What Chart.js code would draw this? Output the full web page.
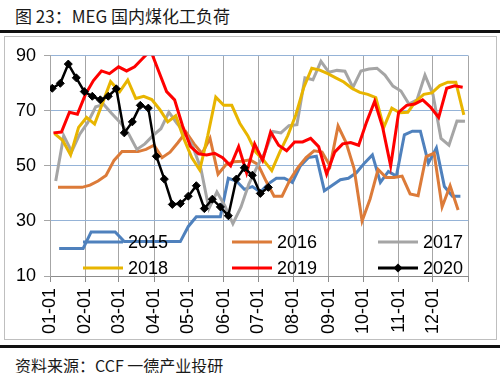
<!DOCTYPE html>
<html>
<head>
<meta charset="utf-8">
<script src="https://cdn.jsdelivr.net/npm/chart.js@4.4.0/dist/chart.umd.min.js"></script>
<style>
  body { margin: 0; background: #fff; width: 500px; height: 373px; position: relative; overflow: hidden; }
  .title { position: absolute; left: 15px; top: 3px; font: 17px "Noto Sans CJK SC", sans-serif; color: #1a1a1a; white-space: nowrap; }
  .rule { position: absolute; left: 0; width: 500px; height: 3px; background: #111; }
  .box { position: absolute; left: 4px; top: 36px; width: 493px; height: 304px; border: 1px solid #bfbfbf; box-sizing: border-box; }
  #chart { position: absolute; left: 5px; top: 37px; }
  .source { position: absolute; left: 15px; top: 353px; font: 16px "Noto Sans CJK SC", sans-serif; color: #1a1a1a; white-space: nowrap; }
</style>
</head>
<body>
<div class="title">图 23：MEG 国内煤化工负荷</div>
<div class="rule" style="top:30px"></div>
<div class="box"></div>
<canvas id="chart" width="491" height="302"></canvas>
<div class="rule" style="top:345px"></div>
<div class="source">资料来源：CCF 一德产业投研</div>
<script>
// month tick labels (x axis)
const monthLabels = ['01-01', '02-01', '03-01', '04-01', '05-01', '06-01',
                     '07-01', '08-01', '09-01', '10-01', '11-01', '12-01'];
const yTicks = [10, 30, 50, 70, 90];

const years = ['2015', '2016', '2017', '2018', '2019', '2020'];
// first weekly date of each year's series
const firstDates = ['2015-01-09', '2016-01-08', '2017-01-06', '2018-01-05', '2019-01-04', '2020-01-03'];

// weekly load (%)
const s2015 = [20, 20, 20, 20, 26, 26, 26, 26, 22.5, 22.5, 22.5, 22.5, 22.5, 22.5, 22.5, 22.5,
  28, 31.5, 31.5, 31.5, 31.5, 45.5, 44.5, 41.5, 42.5, 40.5, 43.5, 45.5, 45.5, 44, 50, 53, 53.5,
  41, 43, 45, 45.5, 47.5, 51, 54, 44, 48, 46.3, 61.3, 62.6, 62.6, 51, 56.5, 42.5, 39, 39];
const s2016 = [42.2, 42.2, 42.2, 42.2, 43, 44.5, 46.5, 52, 55.2, 55.2, 55.2, 56, 57.5, 53, 55,
  58.5, 62.3, 58, 54.5, 60, 47, 50.5, 51.5, 51.7, 52.2, 50.5, 44.5, 39, 39, 45, 49.5, 53, 55.5,
  55, 50, 64.5, 58.5, 49, 30, 38, 48.7, 45.8, 45.8, 46.3, 39.8, 39.2, 53.4, 54.6, 35.1, 42.8, 34];
const s2017 = [44.5, 61, 55.2, 61.5, 65.7, 71.5, 72.3, 69, 65.5, 61.5, 56, 58, 61, 63.5, 69.5,
  65.5, 62, 57, 49, 34.5, 40.5, 35.5, 29, 35, 43.5, 49.5, 55, 62.5, 62, 64.6, 65, 82, 81.3, 88,
  84, 84.7, 84.4, 78.5, 84.5, 85.2, 85.5, 83, 79, 77.2, 72.5, 74, 83, 76, 60, 57.5, 66.3, 66.2];
const s2018 = [61.7, 59.3, 54, 64, 67.6, 65.2, 72.9, 80.6, 77, 81.2, 74.5, 75.3, 74.1, 70.5, 66,
  68.2, 60, 53, 48.5, 61, 75, 72, 72, 65.5, 61, 55, 52, 48.3, 55, 61, 68.5, 78.5, 85.5, 84.8,
  83.5, 82, 80.5, 78.2, 76.7, 76, 74.8, 64, 71, 69.3, 69.5, 73.5, 76, 76.5, 79.2, 80.4, 80.4, 68.5];
const s2019 = [62, 62.3, 69.5, 68.8, 76, 81, 84.5, 83.5, 86, 84.5, 86, 89, 92, 84.5, 77, 74, 64.5,
  57, 54.4, 54, 54.6, 53, 50, 57, 47.5, 58, 52, 62.3, 57.5, 55.5, 58.7, 58.7, 60, 57, 47, 55, 58,
  58.5, 57.5, 66, 73.5, 64, 50, 69.5, 72, 72.5, 74, 71.3, 67.6, 78.2, 79.1, 78.6];
const s2020 = [78.2, 80, 87, 82, 77, 75.3, 74, 75.3, 78, 62, 66, 72, 71, 53.5, 45.2, 36, 36.3,
  39, 42.8, 34.5, 37.9, 35.1, 31.9, 45.2, 49.3, 46.6, 40, 42.2];

const seriesValues = [s2015, s2016, s2017, s2018, s2019, s2020];
const colors = ['#4f81bd', '#dc7b39', '#a5a5a5', '#e8b500', '#ff0000', '#000000'];

// position on a shared MM-DD axis (leap calendar, day 0 = 01-01)
const DAY = 86400000;
function dayPos(d) {
  return (Date.UTC(2020, d.getUTCMonth(), d.getUTCDate()) - Date.UTC(2020, 0, 1)) / DAY;
}
const monthTicks = monthLabels.map(m => dayPos(new Date('2020-' + m + 'T00:00:00Z')));
monthTicks.push(366);

const datasets = years.map((y, k) => {
  const start = Date.parse(firstDates[k] + 'T00:00:00Z');
  const is2020 = y === '2020';
  return {
    label: y,
    data: seriesValues[k].map((v, i) => ({ x: dayPos(new Date(start + i * 7 * DAY)), y: v })),
    borderColor: colors[k],
    backgroundColor: colors[k],
    borderWidth: is2020 ? 2.5 : 3,
    pointRadius: is2020 ? 4 : 0,
    pointStyle: 'rectRot',
    pointBorderWidth: 1,
    tension: 0,
    order: years.length - k
  };
});

// legend drawn inside the plot, 3 columns x 2 rows
const insideLegend = {
  id: 'insideLegend',
  afterDatasetsDraw(chart) {
    const ctx = chart.ctx;
    const area = chart.chartArea;
    const colX = [33, 182, 328];
    const rowY = [area.bottom - 34, area.bottom - 8];
    ctx.save();
    ctx.font = '18px "Liberation Sans", Arial, sans-serif';
    ctx.textBaseline = 'middle';
    ctx.fillStyle = '#000';
    chart.data.datasets.forEach((ds, i) => {
      const x = area.left + colX[i % 3];
      const y = rowY[Math.floor(i / 3)];
      ctx.strokeStyle = ds.borderColor;
      ctx.lineWidth = 3;
      ctx.beginPath();
      ctx.moveTo(x, y);
      ctx.lineTo(x + 40, y);
      ctx.stroke();
      if (ds.pointRadius > 0) {
        const r = ds.pointRadius + 0.5;
        ctx.fillStyle = ds.backgroundColor;
        ctx.beginPath();
        ctx.moveTo(x + 20, y - r);
        ctx.lineTo(x + 20 + r, y);
        ctx.lineTo(x + 20, y + r);
        ctx.lineTo(x + 20 - r, y);
        ctx.closePath();
        ctx.fill();
        ctx.fillStyle = '#000';
      }
      ctx.fillText(ds.label, x + 45, y + 1);
    });
    ctx.restore();
  }
};

new Chart(document.getElementById('chart'), {
  type: 'line',
  data: { datasets },
  options: {
    responsive: false,
    animation: false,
    devicePixelRatio: 1,
    layout: { padding: { top: 13, right: 10, left: 0, bottom: 0 } },
    plugins: { legend: { display: false }, tooltip: { enabled: false } },
    scales: {
      x: {
        type: 'linear',
        min: 0,
        max: 366,
        afterBuildTicks: s => { s.ticks = monthTicks.map(v => ({ value: v })); },
        afterFit: s => { s.height = 63; },
        ticks: {
          autoSkip: false,
          minRotation: 90,
          maxRotation: 90,
          padding: 6,
          color: '#000',
          font: { family: '"Liberation Sans", Arial, sans-serif', size: 18 },
          callback: (v, i) => monthLabels[i] || ''
        },
        grid: { color: '#a6a6a6', tickLength: 6, tickColor: '#8c8c8c' },
        border: { color: '#8c8c8c' }
      },
      y: {
        min: 10,
        max: 90,
        afterBuildTicks: s => { s.ticks = yTicks.map(v => ({ value: v })); },
        afterFit: s => { s.width = 45; },
        ticks: {
          padding: 8,
          color: '#000',
          font: { family: '"Liberation Sans", Arial, sans-serif', size: 18 }
        },
        grid: { color: '#95b3d7', tickLength: 6, tickColor: '#a6a6a6' },
        border: { color: '#a6a6a6' }
      }
    }
  },
  plugins: [insideLegend]
});
</script>
</body>
</html>
